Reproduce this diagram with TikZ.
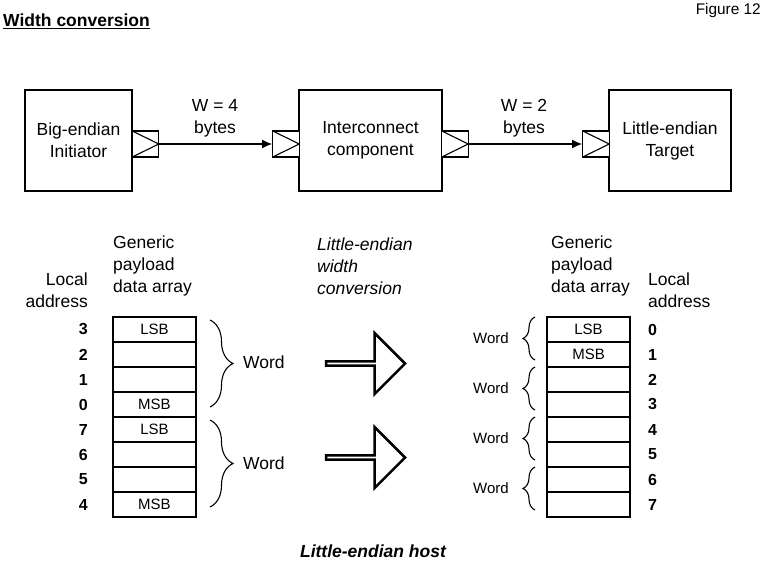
\documentclass[tikz,border=0pt]{standalone}
\usepackage{fontspec}
\setmainfont{Liberation Sans}
\usetikzlibrary{arrows.meta}
\usetikzlibrary{shapes.arrows}
\usetikzlibrary{decorations.pathreplacing}

\begin{document}
\begin{tikzpicture}[x = 1pt, y = -1pt, font = \fontsize{17.5}{22}\selectfont]
	\tikzstyle{blockStyle} = [draw, line width = 1.8pt, minimum height = 101pt, inner sep = 0pt, align = center]
	\tikzstyle{portStyle} = [draw, line width = 1.3pt, minimum width = 26.5pt, minimum height = 26pt, inner sep = 0pt, fill = white,
		path picture = {\draw[line width = 1.1pt] (path picture bounding box.north west) -- (path picture bounding box.east) -- (path picture bounding box.south west);}]
	\tikzstyle{linkStyle} = [line width = 1.3pt, -{Latex[length = 10pt, width = 9pt]}]
	\tikzstyle{cellStyle} = [draw, line width = 1.8pt, minimum width = 83pt, minimum height = 25pt, inner sep = 0pt, font = \fontsize{15}{18}\selectfont]
	\tikzstyle{addrStyle} = [inner sep = 0pt, font = \fontsize{16}{18}\selectfont\bfseries]
	\tikzstyle{braceStyle} = [line width = 1.1pt, decorate]
	\tikzstyle{convStyle} = [draw, line width = 2.6pt, shape = single arrow, minimum height = 79pt, minimum width = 61pt, inner sep = 0pt,
		single arrow head extend = 17pt, single arrow tip angle = 90, single arrow head indent = 0pt]
	\useasboundingbox (0, 0) rectangle (768, 564);
	\node[anchor = base west, inner sep = 0pt, font = \fontsize{17.5}{22}\selectfont\bfseries] (title) at (3, 27) {\underline{Width conversion}};
	\node[anchor = base east, inner sep = 0pt, font = \fontsize{15.4}{18}\selectfont] (fig) at (761, 14.5) {Figure 12};
	\node[blockStyle, minimum width = 107pt] (init) at (78.5, 140.5) {Big-endian\\Initiator};
	\node[blockStyle, minimum width = 143pt] (ic) at (370.5, 140.5) {Interconnect\\component};
	\node[blockStyle, minimum width = 122pt] (tgt) at (670, 140.5) {Little-endian\\Target};
	\node[portStyle] (p1) at (145.5, 144) {};
	\node[portStyle] (p2) at (286, 144) {};
	\node[portStyle] (p3) at (455, 144) {};
	\node[portStyle] (p4) at (596, 144) {};
	\draw[linkStyle] (p1.east) -- (p2.west);
	\draw[linkStyle] (p3.east) -- (p4.west);
	\node[align = center] (w4) at (215, 118.5) {W = 4\\bytes};
	\node[align = center] (w2) at (524, 118.5) {W = 2\\bytes};
	\node[align = left, anchor = west, inner sep = 0pt] (lgen) at (113, 266) {Generic\\payload\\data array};
	\node[align = right, anchor = east, inner sep = 0pt] (laddr) at (88, 290) {Local\\address};
	\node[align = left, anchor = west, inner sep = 0pt, font = \fontsize{17.5}{22}\selectfont\itshape] (conv) at (317, 266) {Little-endian\\width\\conversion};
	\node[align = left, anchor = west, inner sep = 0pt] (rgen) at (551, 266) {Generic\\payload\\data array};
	\node[align = left, anchor = west, inner sep = 0pt] (raddr) at (648, 290) {Local\\address};
	\foreach \i/\lab/\adr in {0/LSB/3, 1//2, 2//1, 3/MSB/0, 4/LSB/7, 5//6, 6//5, 7/MSB/4}
	{
		\node[cellStyle] (l\i) at (154.5, 329.5 + 25*\i) {\lab};
		\node[addrStyle, anchor = east] (la\i) at (88, 329.5 + 25*\i) {\adr};
	}
	\foreach \i/\lab in {0/LSB, 1/MSB, 2/, 3/, 4/, 5/, 6/, 7/}
	{
		\node[cellStyle] (r\i) at (588.5, 329.5 + 25*\i) {\lab};
		\node[addrStyle, anchor = west] (ra\i) at (648, 329.5 + 25*\i) {\i};
	}
	\draw[braceStyle, decoration = {brace, amplitude = 23pt}] (210, 320) -- (210, 407);
	\draw[braceStyle, decoration = {brace, amplitude = 23pt}] (210, 420) -- (210, 507);
	\node[anchor = west, inner sep = 0pt] (lw1) at (243, 362) {Word};
	\node[anchor = west, inner sep = 0pt] (lw2) at (243, 463.5) {Word};
	\foreach \j in {0, 1, 2, 3}
	{
		\draw[braceStyle, decoration = {brace, amplitude = 12pt}] (535, 360 + 50*\j) -- (535, 317 + 50*\j);
		\node[anchor = east, inner sep = 0pt, font = \fontsize{15}{18}\selectfont] (rw\j) at (509, 338 + 50*\j) {Word};
	}
	\node[convStyle] (a1) at (364.5, 363.5) {};
	\node[convStyle] (a2) at (364.5, 457.5) {};
	\node[font = \fontsize{17.5}{22}\selectfont\bfseries\itshape] (host) at (373, 551) {Little-endian host};
\end{tikzpicture}
\end{document}
